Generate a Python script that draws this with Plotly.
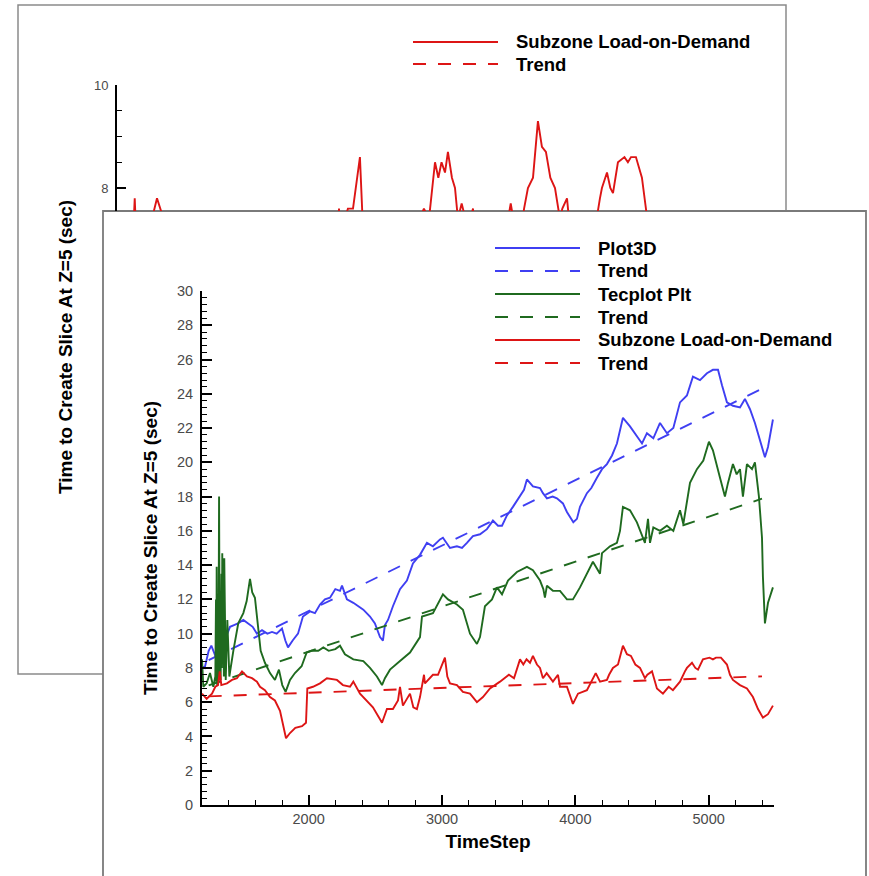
import plotly.graph_objects as go

W, H = 869, 876

# ---------------- data ----------------
names = ["Plot3D", "Trend", "Tecplot Plt", "Trend", "Subzone Load-on-Demand", "Trend"]

blue_x = [1200, 1220, 1250, 1270, 1300, 1340, 1370, 1390, 1410, 1440, 1470, 1510, 1545, 1580,
          1612, 1650, 1690, 1725, 1760, 1800, 1825, 1845, 1880, 1920, 1957, 2010, 2047, 2085,
          2122, 2160, 2200, 2235, 2250, 2287, 2335, 2370, 2410, 2460, 2497, 2535, 2557, 2572,
          2595, 2632, 2685, 2737, 2782, 2835, 2887, 2932, 2985, 3007, 3060, 3112, 3150, 3187,
          3232, 3285, 3337, 3382, 3420, 3450, 3487, 3532, 3585, 3615, 3637, 3682, 3735, 3757,
          3787, 3830, 3862, 3907, 3937, 3960, 3985, 4012, 4035, 4087, 4120, 4162, 4200, 4237,
          4275, 4312, 4357, 4410, 4462, 4500, 4537, 4585, 4635, 4687, 4735, 4785, 4837, 4882,
          4935, 4987, 5032, 5070, 5100, 5137, 5182, 5235, 5272, 5310, 5347, 5385, 5422, 5445, 5482]
blue_y = [8.1, 8.0, 9.0, 9.3, 8.7, 9.0, 9.6, 10.0, 10.4, 10.5, 10.6, 10.8, 10.6, 10.4,
          10.0, 10.2, 10.0, 10.1, 10.0, 10.3, 9.6, 9.2, 9.6, 10.0, 11.0, 11.3, 11.2, 11.7,
          12.0, 12.1, 12.6, 12.5, 12.8, 12.0, 11.8, 11.6, 11.4, 11.0, 10.6, 9.8, 9.6, 10.5,
          10.8, 11.6, 12.6, 13.1, 14.1, 14.6, 15.3, 15.1, 15.5, 15.6, 15.0, 15.1, 15.0, 15.3,
          15.7, 15.8, 16.1, 16.6, 16.3, 16.3, 16.9, 17.4, 18.0, 18.4, 19.0, 18.6, 18.5, 18.2,
          17.9, 18.0, 17.9, 17.6, 17.1, 16.8, 16.5, 16.7, 17.4, 18.2, 18.5, 19.1, 19.6, 19.9,
          20.4, 21.1, 22.6, 22.1, 21.5, 21.1, 21.7, 21.4, 22.3, 21.7, 22.0, 23.5, 23.9, 25.0,
          24.8, 25.2, 25.4, 25.4, 24.5, 23.5, 23.3, 23.2, 23.7, 23.1, 22.3, 21.3, 20.3, 20.9, 22.5]

green_x = [1200, 1210, 1235, 1260, 1285, 1300, 1305, 1308, 1310, 1314, 1320, 1323, 1328, 1333,
           1337, 1340, 1346, 1349, 1352, 1356, 1360, 1364, 1367, 1372, 1375, 1378, 1390,
           1405, 1435, 1472, 1510, 1535, 1560, 1577, 1597, 1617, 1640, 1672, 1710, 1747, 1777,
           1802, 1827, 1860, 1897, 1947, 1985, 2022, 2072, 2110, 2150, 2200, 2235, 2272, 2335,
           2410, 2460, 2512, 2550, 2572, 2610, 2685, 2760, 2835, 2850, 2932, 3007, 3045, 3112,
           3157, 3210, 3262, 3285, 3322, 3375, 3412, 3450, 3495, 3562, 3637, 3682, 3735, 3760,
           3772, 3787, 3832, 3885, 3937, 3982, 4035, 4087, 4132, 4185, 4200, 4260, 4312, 4335,
           4357, 4410, 4462, 4522, 4545, 4560, 4585, 4635, 4687, 4735, 4785, 4810, 4837, 4860,
           4912, 4960, 5002, 5032, 5085, 5122, 5145, 5182, 5210, 5235, 5257, 5287, 5325, 5347,
           5377, 5400, 5407, 5422, 5445, 5482]
green_y = [8.5, 6.9, 7.1, 7.7, 6.9, 7.5, 12.0, 7.2, 13.9, 7.0, 11.0, 7.2, 18.0, 7.5,
           12.5, 7.3, 13.5, 8.0, 14.7, 8.5, 14.4, 7.5, 14.4, 8.0, 10.5, 7.3, 10.8,
           7.5, 9.0, 10.6, 11.2, 11.9, 13.2, 12.4, 12.1, 10.8, 9.0, 8.3, 7.7, 7.3, 7.9,
           7.0, 6.6, 7.3, 7.7, 8.1, 8.9, 9.0, 9.0, 9.2, 9.0, 9.1, 9.3, 8.8, 8.5,
           8.4, 8.0, 7.5, 7.0, 7.4, 7.9, 8.4, 8.9, 9.8, 11.0, 11.2, 12.3, 12.0, 11.7,
           11.4, 10.0, 9.4, 9.8, 11.6, 12.0, 12.7, 12.3, 13.1, 13.6, 13.9, 13.7, 13.1, 12.6,
           12.1, 12.8, 12.5, 12.5, 12.0, 12.0, 12.7, 13.5, 14.2, 13.5, 14.7, 15.1, 15.3, 16.0,
           17.4, 17.2, 16.5, 15.3, 16.7, 15.3, 16.2, 16.0, 16.3, 16.0, 17.2, 16.4, 17.6, 18.8,
           19.6, 20.1, 21.2, 20.7, 19.1, 18.0, 18.8, 19.9, 19.3, 19.6, 18.0, 19.9, 19.6, 20.0,
           18.0, 15.6, 13.3, 10.6, 11.8, 12.7]

red_x = [1200, 1235, 1275, 1300, 1320, 1333, 1345, 1387, 1425, 1462, 1500, 1537, 1575, 1612,
         1635, 1672, 1710, 1747, 1785, 1807, 1830, 1860, 1900, 1950, 1980, 1990, 2032, 2085,
         2137, 2212, 2257, 2310, 2335, 2385, 2437, 2482, 2535, 2550, 2587, 2632, 2670, 2685,
         2707, 2760, 2785, 2812, 2835, 2865, 2872, 2932, 2970, 3000, 3022, 3040, 3060, 3112,
         3157, 3210, 3262, 3307, 3360, 3435, 3502, 3540, 3585, 3610, 3634, 3660, 3682, 3712,
         3735, 3757, 3785, 3832, 3870, 3885, 3937, 3982, 4020, 4087, 4132, 4153, 4185, 4237,
         4253, 4282, 4320, 4357, 4387, 4417, 4450, 4485, 4522, 4540, 4575, 4612, 4657, 4700,
         4732, 4785, 4822, 4837, 4875, 4900, 4920, 4957, 5006, 5032, 5055, 5092, 5137, 5160,
         5182, 5235, 5287, 5332, 5370, 5407, 5445, 5482]
red_y = [6.5, 6.2, 6.5, 6.9, 7.0, 7.8, 7.0, 7.1, 7.3, 7.4, 7.8, 7.5, 7.4, 7.2,
         6.9, 6.7, 6.3, 6.1, 5.5, 4.8, 3.9, 4.2, 4.5, 4.6, 4.8, 6.8, 6.9, 7.1,
         7.4, 7.3, 7.0, 6.9, 7.2, 6.5, 6.1, 5.7, 5.0, 4.8, 5.6, 5.6, 6.1, 6.9,
         5.8, 6.5, 5.7, 5.6, 6.3, 7.6, 7.1, 7.6, 7.6, 8.2, 8.6, 7.5, 7.1, 7.0,
         6.6, 6.5, 6.0, 6.3, 6.8, 7.2, 7.6, 7.4, 8.5, 8.2, 8.5, 8.3, 8.7, 8.2,
         8.0, 7.4, 7.7, 7.2, 7.6, 6.9, 6.9, 5.9, 6.5, 6.7, 7.4, 7.7, 7.2, 7.3,
         7.6, 8.0, 8.2, 9.3, 8.8, 8.7, 8.2, 8.0, 7.4, 7.6, 7.8, 6.8, 6.5, 6.9,
         6.7, 7.2, 7.8, 8.0, 8.3, 8.0, 7.9, 8.5, 8.6, 8.5, 8.6, 8.6, 8.2, 7.6,
         7.3, 7.0, 6.8, 6.3, 5.6, 5.1, 5.3, 5.8]

trend_x = [1250, 5400]
blue_trend = [8.46, 24.3]
green_trend = [6.98, 17.88]
red_trend = [6.34, 7.51]

x_ticks = [2000, 3000, 4000, 5000]

# ---------------- styling ----------------
BLUE = "#3f3ff2"
GREEN = "#1f6a1f"
RED = "#dd1515"
DASH = "13px,12px"
FONT = "Liberation Sans, Arial, sans-serif"
TICKGRAY = "#4a4a4a"


def fx(p):
    return p / W


def fy(p):
    return 1 - p / H


fig = go.Figure()

# back panel (zoomed copy, only its top part visible)
fig.add_trace(go.Scatter(x=red_x, y=red_y, mode="lines", line=dict(color=RED, width=1.9),
                         name=names[4], xaxis="x", yaxis="y", showlegend=False))
fig.add_trace(go.Scatter(x=trend_x, y=red_trend, mode="lines",
                         line=dict(color=RED, width=1.9, dash=DASH),
                         name=names[5], xaxis="x", yaxis="y", showlegend=False))

# front panel
series = [
    (blue_x, blue_y, BLUE, None, names[0]),
    (trend_x, blue_trend, BLUE, DASH, names[1]),
    (green_x, green_y, GREEN, None, names[2]),
    (trend_x, green_trend, GREEN, DASH, names[3]),
    (red_x, red_y, RED, None, names[4]),
    (trend_x, red_trend, RED, DASH, names[5]),
]
for xs, ys, col, dash, nm in series:
    fig.add_trace(go.Scatter(x=xs, y=ys, mode="lines",
                             line=dict(color=col, width=1.9, dash=dash) if dash else dict(color=col, width=1.9),
                             name=nm, xaxis="x2", yaxis="y2", showlegend=False))

shapes = []
# panel frames
shapes.append(dict(type="rect", xref="paper", yref="paper", layer="below",
                   x0=fx(18), x1=fx(786), y0=fy(674), y1=fy(5),
                   line=dict(color="#8a8a8a", width=1.5), fillcolor="white"))
shapes.append(dict(type="rect", xref="paper", yref="paper", layer="below",
                   x0=fx(103), x1=fx(866), y0=fy(885), y1=fy(211),
                   line=dict(color="#7a7a7a", width=1.8), fillcolor="white"))

annotations = []


def legend_rows(entries, x_line0, x_line1, x_text, y0, step):
    for i, (nm, col, dash) in enumerate(entries):
        yy = y0 + i * step
        shapes.append(dict(type="line", xref="paper", yref="paper",
                           x0=fx(x_line0), x1=fx(x_line1), y0=fy(yy), y1=fy(yy),
                           line=dict(color=col, width=2, dash=dash if dash else "solid")))
        annotations.append(dict(xref="paper", yref="paper", x=fx(x_text), y=fy(yy),
                                xanchor="left", yanchor="middle", showarrow=False, text=nm,
                                font=dict(family=FONT, size=18.5, color="black", weight="bold")))


legend_rows([(nm, col, dash) for _, _, col, dash, nm in series], 495, 580, 596, 248, 23)
legend_rows([(names[4], RED, None), (names[5], RED, DASH)], 413, 498, 514, 42, 22)

# back panel y title
annotations.append(dict(xref="paper", yref="paper", x=fx(65), y=fy(347), textangle=-90,
                        xanchor="center", yanchor="middle", showarrow=False,
                        text="Time to Create Slice At Z=5 (sec)",
                        font=dict(family=FONT, size=19, color="black", weight="bold")))

back_ymin = 10 - (211 - 85) / 51.5

axis_common = dict(showline=True, linecolor="black", linewidth=2, ticks="inside",
                   tickwidth=2, tickcolor="black", showgrid=False, zeroline=False,
                   mirror=False)

fig.update_layout(
    width=W, height=H, autosize=False,
    margin=dict(l=0, r=0, t=0, b=0),
    template="none",
    paper_bgcolor="white", plot_bgcolor="rgba(0,0,0,0)",
    showlegend=False,
    shapes=shapes, annotations=annotations,
    xaxis=dict(domain=[fx(117), fx(689)], range=[1200, 5490], visible=False,
               anchor="y"),
    yaxis=dict(domain=[fy(211), fy(85)], range=[back_ymin, 10], anchor="x",
               tickmode="array", tickvals=[8, 10], ticklen=9,
               tickfont=dict(family=FONT, size=13, color=TICKGRAY),
               ticklabelstandoff=4,
               minor=dict(tickmode="linear", tick0=0, dtick=0.5, ticks="inside",
                          ticklen=5, tickwidth=1, tickcolor="black"),
               **axis_common),
    xaxis2=dict(domain=[fx(202), fx(774)], range=[1200, 5490], anchor="y2",
                tickmode="array", tickvals=x_ticks, ticklen=10,
                tickfont=dict(family=FONT, size=14.5, color=TICKGRAY),
                minor=dict(tickmode="linear", tick0=0, dtick=200, ticks="inside",
                           ticklen=5, tickwidth=1, tickcolor="black"),
                title=dict(text="TimeStep", standoff=8,
                           font=dict(family=FONT, size=19, color="black", weight="bold")),
                **axis_common),
    yaxis2=dict(domain=[fy(805), fy(291)], range=[0, 30], anchor="x2",
                tickmode="linear", tick0=0, dtick=2, ticklen=10,
                tickfont=dict(family=FONT, size=14.5, color=TICKGRAY),
                ticklabelstandoff=4,
                minor=dict(tickmode="linear", tick0=0, dtick=0.4, ticks="inside",
                           ticklen=5, tickwidth=1, tickcolor="black"),
                title=dict(text="Time to Create Slice At Z=5 (sec)", standoff=14,
                           font=dict(family=FONT, size=19, color="black", weight="bold")),
                **axis_common),
)

fig.write_html("out.html", config={"displayModeBar": False},
               post_script="document.body.style.margin='0px';")
